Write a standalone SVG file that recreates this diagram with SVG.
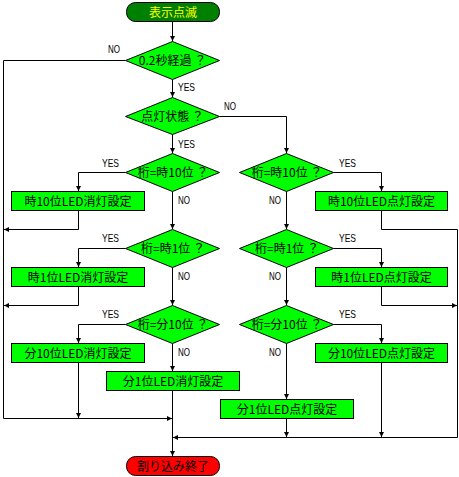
<svg xmlns="http://www.w3.org/2000/svg" width="459" height="477" viewBox="0 0 459 477">
<style>
.bg{fill:#ffffff}
.dia{fill:#00ff00;stroke:#000;stroke-width:1}
.box{fill:#00ff00;stroke:#000;stroke-width:1}
.t{font-family:"Noto Sans CJK JP","Noto Sans",sans-serif;font-size:12px;fill:#000;text-anchor:middle}
.lbl{font-family:"Liberation Sans","DejaVu Sans",sans-serif;font-size:11px;fill:#000}
.ln{fill:none;stroke:#000;stroke-width:1}
</style>
<defs>
<marker id="ah" viewBox="0 0 6 6" markerWidth="5" markerHeight="5" refX="6" refY="3" orient="auto" markerUnits="userSpaceOnUse">
<path d="M0,0 L6,3 L0,6 z" fill="#000"/>
</marker>
</defs>
<rect class="bg" x="0" y="0" width="459" height="477"/>
<g id="connectors">
<path class="ln" marker-end="url(#ah)" d="M172.5,21.5 V41"/>
<path class="ln" marker-end="url(#ah)" d="M172.5,79.5 V97"/>
<path class="ln" marker-end="url(#ah)" d="M172.5,134.5 V153"/>
<path class="ln" marker-end="url(#ah)" d="M125.5,60.5 H3.5 V418.5 H172"/>
<path class="ln" marker-end="url(#ah)" d="M219.5,116.5 H286.5 V153"/>
<path class="ln" marker-end="url(#ah)" d="M125.5,172.5 H78.5 V191"/>
<path class="ln" marker-end="url(#ah)" d="M78.5,210.5 V229.5 H4"/>
<path class="ln" marker-end="url(#ah)" d="M172.5,191.5 V229"/>
<path class="ln" marker-end="url(#ah)" d="M125.5,248.5 H78.5 V267"/>
<path class="ln" marker-end="url(#ah)" d="M78.5,286.5 V305.5 H4"/>
<path class="ln" marker-end="url(#ah)" d="M172.5,267.5 V305"/>
<path class="ln" marker-end="url(#ah)" d="M125.5,324.5 H78.5 V343"/>
<path class="ln" marker-end="url(#ah)" d="M78.5,362.5 V418"/>
<path class="ln" marker-end="url(#ah)" d="M172.5,343.5 V371"/>
<path class="ln" marker-end="url(#ah)" d="M172.5,390.5 V456"/>
<path class="ln" marker-end="url(#ah)" d="M333.5,172.5 H381.5 V191"/>
<path class="ln" marker-end="url(#ah)" d="M381.5,210.5 V229.5 H457.5 V437.5 H173"/>
<path class="ln" marker-end="url(#ah)" d="M286.5,191.5 V229"/>
<path class="ln" marker-end="url(#ah)" d="M333.5,248.5 H381.5 V267"/>
<path class="ln" marker-end="url(#ah)" d="M381.5,286.5 V305.5 H457"/>
<path class="ln" marker-end="url(#ah)" d="M286.5,267.5 V305"/>
<path class="ln" marker-end="url(#ah)" d="M333.5,324.5 H381.5 V343"/>
<path class="ln" marker-end="url(#ah)" d="M381.5,362.5 V437"/>
<path class="ln" marker-end="url(#ah)" d="M286.5,343.5 V399"/>
<path class="ln" marker-end="url(#ah)" d="M286.5,418.5 V437"/>
</g>
<g id="labels">
<text class="lbl" x="108" y="53" textLength="12" lengthAdjust="spacingAndGlyphs">NO</text>
<text class="lbl" x="178" y="91" textLength="17" lengthAdjust="spacingAndGlyphs">YES</text>
<text class="lbl" x="224" y="110" textLength="12" lengthAdjust="spacingAndGlyphs">NO</text>
<text class="lbl" x="178" y="148" textLength="17" lengthAdjust="spacingAndGlyphs">YES</text>
<text class="lbl" x="102" y="167" textLength="17" lengthAdjust="spacingAndGlyphs">YES</text>
<text class="lbl" x="178" y="204" textLength="12" lengthAdjust="spacingAndGlyphs">NO</text>
<text class="lbl" x="102" y="242" textLength="17" lengthAdjust="spacingAndGlyphs">YES</text>
<text class="lbl" x="178" y="280" textLength="12" lengthAdjust="spacingAndGlyphs">NO</text>
<text class="lbl" x="102" y="318" textLength="17" lengthAdjust="spacingAndGlyphs">YES</text>
<text class="lbl" x="178" y="356" textLength="12" lengthAdjust="spacingAndGlyphs">NO</text>
<text class="lbl" x="339" y="167" textLength="17" lengthAdjust="spacingAndGlyphs">YES</text>
<text class="lbl" x="269" y="204" textLength="12" lengthAdjust="spacingAndGlyphs">NO</text>
<text class="lbl" x="339" y="242" textLength="17" lengthAdjust="spacingAndGlyphs">YES</text>
<text class="lbl" x="269" y="280" textLength="12" lengthAdjust="spacingAndGlyphs">NO</text>
<text class="lbl" x="339" y="318" textLength="17" lengthAdjust="spacingAndGlyphs">YES</text>
<text class="lbl" x="269" y="356" textLength="12" lengthAdjust="spacingAndGlyphs">NO</text>
</g>
<g id="start">
<rect x="126.5" y="2.5" width="93" height="19" rx="9" ry="9" fill="#008000" stroke="#000"/>
<text class="t" x="173" y="16.5" style="fill:#ffff00">表示点滅</text>
</g>
<g id="d_elapsed">
<polygon class="dia" points="125.5,60.5 172.5,41.5 219.5,60.5 172.5,79.5"/>
<text class="t" x="172.5" y="65">0.2秒経過 ？</text>
</g>
<g id="d_state">
<polygon class="dia" points="125.5,116.5 172.5,97.5 219.5,116.5 172.5,134.5"/>
<text class="t" x="172.5" y="121">点灯状態 ？</text>
</g>
<g id="d_h10_off">
<polygon class="dia" points="125.5,172.5 172.5,153.5 219.5,172.5 172.5,191.5"/>
<text class="t" x="173" y="177">桁=時10位 ？</text>
</g>
<g id="b_h10_off">
<rect class="box" x="11.5" y="191.5" width="133" height="19"/>
<text class="t" x="78" y="205.5">時10位LED消灯設定</text>
</g>
<g id="d_h1_off">
<polygon class="dia" points="125.5,248.5 172.5,229.5 219.5,248.5 172.5,267.5"/>
<text class="t" x="173" y="253">桁=時1位 ？</text>
</g>
<g id="b_h1_off">
<rect class="box" x="11.5" y="267.5" width="133" height="19"/>
<text class="t" x="78" y="281.5">時1位LED消灯設定</text>
</g>
<g id="d_m10_off">
<polygon class="dia" points="125.5,324.5 172.5,305.5 219.5,324.5 172.5,343.5"/>
<text class="t" x="173" y="329">桁=分10位 ？</text>
</g>
<g id="b_m10_off">
<rect class="box" x="11.5" y="343.5" width="133" height="19"/>
<text class="t" x="78" y="357.5">分10位LED消灯設定</text>
</g>
<g id="b_m1_off">
<rect class="box" x="106.5" y="371.5" width="133" height="19"/>
<text class="t" x="173" y="385.5">分1位LED消灯設定</text>
</g>
<g id="d_h10_on">
<polygon class="dia" points="239.5,172.5 286.5,153.5 333.5,172.5 286.5,191.5"/>
<text class="t" x="287" y="177">桁=時10位 ？</text>
</g>
<g id="b_h10_on">
<rect class="box" x="315.5" y="191.5" width="132" height="19"/>
<text class="t" x="381.5" y="205.5">時10位LED点灯設定</text>
</g>
<g id="d_h1_on">
<polygon class="dia" points="239.5,248.5 286.5,229.5 333.5,248.5 286.5,267.5"/>
<text class="t" x="287" y="253">桁=時1位 ？</text>
</g>
<g id="b_h1_on">
<rect class="box" x="315.5" y="267.5" width="132" height="19"/>
<text class="t" x="381.5" y="281.5">時1位LED点灯設定</text>
</g>
<g id="d_m10_on">
<polygon class="dia" points="239.5,324.5 286.5,305.5 333.5,324.5 286.5,343.5"/>
<text class="t" x="287" y="329">桁=分10位 ？</text>
</g>
<g id="b_m10_on">
<rect class="box" x="315.5" y="343.5" width="132" height="19"/>
<text class="t" x="381.5" y="357.5">分10位LED点灯設定</text>
</g>
<g id="b_m1_on">
<rect class="box" x="220.5" y="399.5" width="133" height="19"/>
<text class="t" x="287" y="413.5">分1位LED点灯設定</text>
</g>
<g id="end">
<rect x="126.5" y="456.5" width="93" height="19" rx="9" ry="9" fill="#ff0000" stroke="#000"/>
<text class="t" x="173" y="470.5">割り込み終了</text>
</g>
</svg>
